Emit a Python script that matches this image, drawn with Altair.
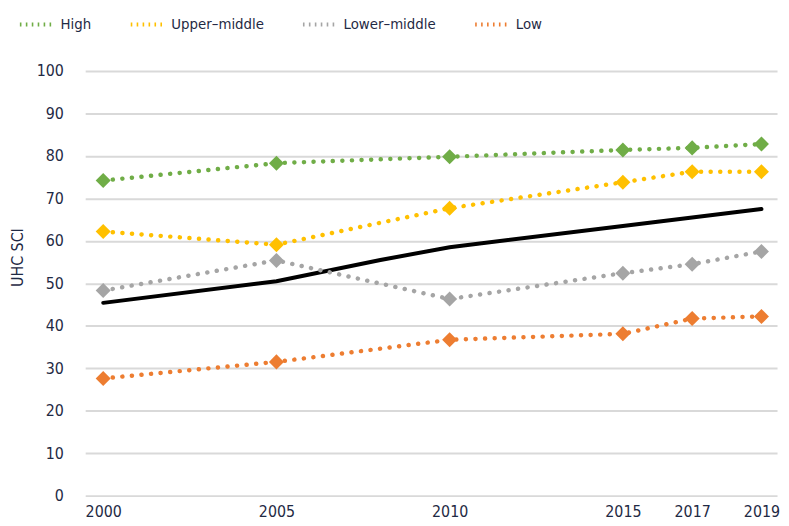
import altair as alt
import pandas as pd

years = [2000, 2005, 2010, 2015, 2017, 2019]
groups = ["High", "Upper–middle", "Lower–middle", "Low"]
high = [74.2, 78.3, 79.8, 81.4, 81.9, 82.8]
upper_middle = [62.2, 59.1, 67.7, 73.8, 76.3, 76.3]
lower_middle = [48.3, 55.4, 46.3, 52.4, 54.5, 57.5]
low = [27.6, 31.5, 36.7, 38.1, 41.7, 42.2]
global_years = [2000, 2005, 2008, 2010, 2015, 2017, 2019]
global_vals = [45.4, 50.5, 55.5, 58.5, 63.5, 65.5, 67.5]
colors = ["#70ad47", "#ffc000", "#a5a5a5", "#ed7d31"]
y_ticks = list(range(0, 101, 10))

FONT = "Liberation Sans Narrow, DejaVu Sans Condensed, sans-serif"
TEXT = "#1f2a44"
GRID = "#d9d9d9"

rows = []
for g, vals in zip(groups, [high, upper_middle, lower_middle, low]):
    for yr, v in zip(years, vals):
        rows.append({"group": g, "year": yr, "value": v})
df = pd.DataFrame(rows)
gdf = pd.DataFrame({"year": global_years, "value": global_vals})

xscale = alt.Scale(domain=[1999.48, 2019.45], nice=False, zero=False)
yscale = alt.Scale(domain=[0, 100], nice=False)

xaxis = alt.Axis(values=years, format="d", grid=False, ticks=False, domain=False,
                 labelPadding=8, labelFontSize=16, labelColor=TEXT, labelFont=FONT,
                 labelFlush=False, labelOverlap=False, title=None)
yaxis = alt.Axis(values=y_ticks, grid=True, gridColor=GRID, gridWidth=2, ticks=False,
                 domain=False, labelPadding=22, labelFontSize=16, labelColor=TEXT,
                 labelFont=FONT, title="UHC SCI", titleFont=FONT, titleFontSize=16,
                 titleFontWeight="normal", titleColor=TEXT, titleAngle=-90,
                 titleX=-68, titleY=188, titleAlign="center", titleBaseline="middle")

x = alt.X("year:Q", scale=xscale, axis=xaxis)
y = alt.Y("value:Q", scale=yscale, axis=yaxis)

lines = alt.Chart(df).mark_line(strokeDash=[0.1, 9.6], strokeCap="round", strokeWidth=4.5).encode(
    x=x, y=y,
    stroke=alt.Stroke("group:N", scale=alt.Scale(domain=groups, range=colors),
                      legend=alt.Legend(orient="none", legendX=-68, legendY=-66,
                                        direction="horizontal", symbolType="stroke",
                                        symbolDash=[1.6, 4.4], symbolStrokeWidth=4,
                                        symbolSize=1156, columnPadding=31, labelOffset=5,
                                        labelFontSize=15, labelFont=FONT, labelColor=TEXT,
                                        title=None)),
    detail="group:N",
)

points = alt.Chart(df).mark_point(shape="diamond", filled=True, size=230, opacity=1).encode(
    x=x, y=y,
    fill=alt.Fill("group:N", scale=alt.Scale(domain=groups, range=colors), legend=None),
)

glob = alt.Chart(gdf).mark_line(color="#000000", strokeWidth=4, strokeCap="round").encode(
    x=x, y=y,
)

chart = alt.layer(glob, lines, points).properties(
    width=699, height=429,
    autosize=alt.AutoSizeParams(type="none"),
    padding={"left": 78, "top": 61, "right": 4, "bottom": 27},
).configure_view(stroke=None)

chart.save("out.html", embed_options={"renderer": "svg", "actions": False})
